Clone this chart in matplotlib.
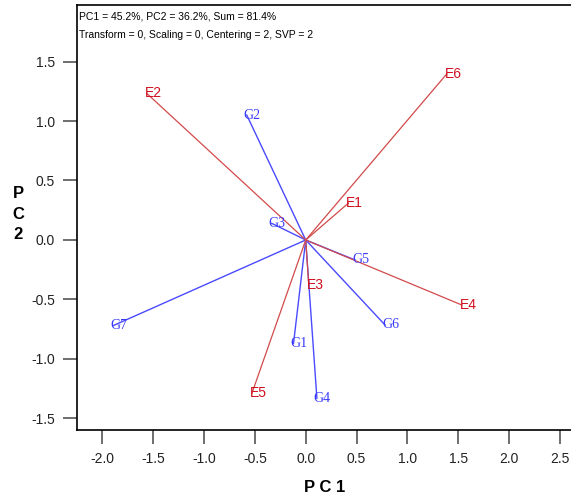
import matplotlib.pyplot as plt

# environment vectors (PC1, PC2)
env_names = ["E1", "E2", "E3", "E4", "E5", "E6"]
env_pc1 = [0.42, -1.565, 0.03, 1.535, -0.53, 1.387]
env_pc2 = [0.31, 1.233, -0.38, -0.546, -1.29, 1.395]

# genotype vectors (PC1, PC2)
gen_names = ["G1", "G2", "G3", "G4", "G5", "G6", "G7"]
gen_pc1 = [-0.12, -0.58, -0.335, 0.11, 0.485, 0.78, -1.895]
gen_pc2 = [-0.87, 1.05, 0.14, -1.33, -0.168, -0.714, -0.72]

header = ["PC1 = 45.2%, PC2 = 36.2%, Sum = 81.4%",
          "Transform = 0, Scaling = 0, Centering = 2, SVP = 2"]

narrow = ["Liberation Sans Narrow", "Liberation Sans", "DejaVu Sans"]

fig = plt.figure(figsize=(5.71, 5.04), dpi=100)
ax = fig.add_axes([0.1349, 0.1468, 0.8651, 0.8433])

for name, x, y in zip(gen_names, gen_pc1, gen_pc2):
    ax.plot([0, x], [0, y], color="#4a4aff", lw=1.0, zorder=2)
    ax.text(x - 0.03, y, name, color="#3a3aff", fontsize=10,
            family=["Liberation Serif", "DejaVu Serif"],
            ha="left", va="center", zorder=3)

for name, x, y in zip(env_names, env_pc1, env_pc2):
    ax.plot([0, x], [0, y], color="#d24a4a", lw=0.9, zorder=2)
    ax.text(x - 0.02, y, name, color="#d01020", fontsize=10,
            family=narrow, ha="left", va="center", zorder=3)

ax.set_xlim(-2.25, 2.61)
ax.set_ylim(-1.597, 1.975)
ax.set_xticks([-2.0, -1.5, -1.0, -0.5, 0.0, 0.5, 1.0, 1.5, 2.0, 2.5])
ax.set_yticks([-1.5, -1.0, -0.5, 0.0, 0.5, 1.0, 1.5])
ax.xaxis.set_major_formatter(plt.FormatStrFormatter("%.1f"))
ax.yaxis.set_major_formatter(plt.FormatStrFormatter("%.1f"))
ax.tick_params(direction="out", length=10, width=1.2, color="#555555",
               labelsize=10, labelcolor="#222222", pad=6)
for lab in ax.get_xticklabels() + ax.get_yticklabels():
    lab.set_family(["Liberation Sans", "DejaVu Sans"])
ax.spines["right"].set_visible(False)
for s in ["left", "bottom", "top"]:
    ax.spines[s].set_linewidth(1.2)

ax.text(0.005, 0.985, header[0], transform=ax.transAxes, fontsize=7.5,
        family=narrow, ha="left", va="top")
ax.text(0.005, 0.942, header[1], transform=ax.transAxes, fontsize=7.5,
        family=narrow, ha="left", va="top")

fig.text(0.569, 0.032, "P C 1", fontsize=12, fontweight="bold",
         family=["Liberation Sans", "DejaVu Sans"], ha="center", va="center")
fig.text(0.032, 0.575, "P\nC\n2", fontsize=12, fontweight="bold",
         family=["Liberation Sans", "DejaVu Sans"], ha="center", va="center",
         linespacing=1.45)

fig.savefig("out.png", dpi=100)
